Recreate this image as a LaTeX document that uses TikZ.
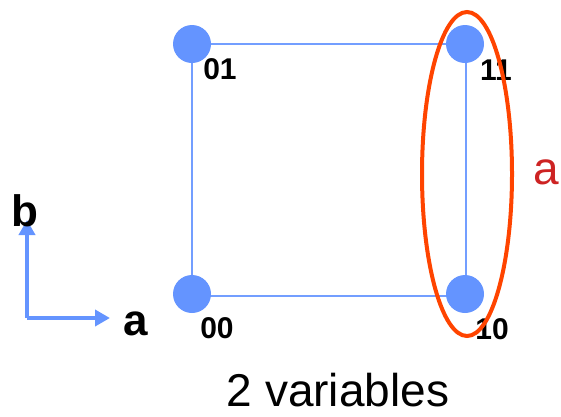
\documentclass[tikz,border=0pt]{standalone}
\usepackage{fontspec}
\setmainfont{Liberation Sans}
\usetikzlibrary{arrows.meta}
\definecolor{dotblue}{RGB}{100,148,255}
\definecolor{lineblue}{RGB}{115,158,255}
\definecolor{ellred}{RGB}{255,68,0}
\definecolor{lblred}{RGB}{205,35,35}
\tikzset{
  vertex/.style={circle, fill=dotblue, minimum size=38pt, inner sep=0pt},
  edge/.style={draw=lineblue, line width=2.5pt},
  code/.style={font=\fontsize{30}{32}\selectfont\bfseries, inner sep=0pt},
  axis/.style={draw=dotblue, line width=4.5pt, -{Triangle[length=15pt,width=16pt]}},
  axlabel/.style={font=\fontsize{44}{48}\selectfont\bfseries, inner sep=0pt},
}
\begin{document}
\begin{tikzpicture}[x=1pt,y=-1pt]
\useasboundingbox (0,0) rectangle (561,416);
% square edges
\coordinate (c01) at (192,44);
\coordinate (c11) at (466,44);
\coordinate (c00) at (192,296);
\coordinate (c10) at (466,296);
\draw[edge] (c01) -- (c11) -- (c10) -- (c00) -- cycle;
% vertices
\node[vertex] (v01) at (192,44) {};
\node[vertex] (v11) at (465,44) {};
\node[vertex] (v00) at (192,294) {};
\node[vertex] (v10) at (465,294) {};
% labels
\node[code] (l01) at (220,69) {01};
\node[code] (l11) at (496,70) {11};
\node[code] (l00) at (217,328) {00};
\node[code] (l10) at (492,329) {10};
% ellipse
\draw[ellred, line width=4pt] (467,174) ellipse [x radius=45, y radius=162];
\node[font=\fontsize{46}{50}\selectfont, text=lblred, inner sep=0pt] (ra) at (546,172) {a};
% axes
\coordinate (o) at (27,318);
\coordinate (ytip) at (27,220);
\coordinate (xtip) at (110,318);
\draw[axis] (o) -- (ytip);
\draw[axis] (o) -- (xtip);
\node[axlabel] (lb) at (25,211) {b};
\node[axlabel] (la) at (136,324) {a};
% caption
\node[font=\fontsize{46}{50}\selectfont, inner sep=0pt] (cap) at (338,390) {2 variables};
\end{tikzpicture}
\end{document}
